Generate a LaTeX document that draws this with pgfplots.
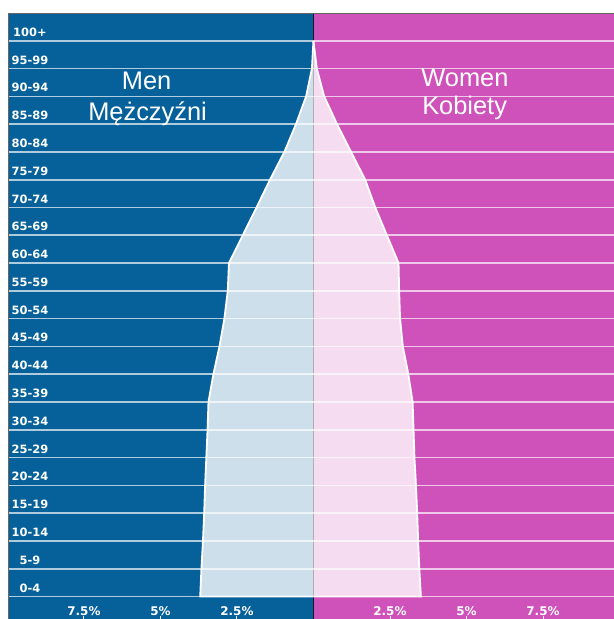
\documentclass[border=0pt]{standalone}
\usepackage{fontspec}
\setmainfont{Liberation Sans}
\newfontfamily\dvs{DejaVu Sans}
\usepackage{pgfplots}
\pgfplotsset{compat=1.18}
\definecolor{menbg}{RGB}{6,97,155}
\definecolor{wombg}{RGB}{206,82,186}
\begin{document}
\begin{tikzpicture}
\begin{axis}[
  scale only axis, width=606bp, height=606bp,
  xmin=-9.98, xmax=9.82, ymin=-0.81, ymax=21,
  axis on top,
  axis line style={draw=none},
  xtick={-7.5,-5,-2.5,2.5,5,7.5},
  xticklabels={7.5\%,5\%,2.5\%,2.5\%,5\%,7.5\%},
  xtick pos=left, tick align=inside,
  major tick length=3bp,
  xtick style={white!85!gray, line width=0.9bp},
  xticklabel style={anchor=base, yshift=3.5bp, text=white, font=\dvs\bfseries\fontsize{12}{14}\selectfont},
  ytick={0.16,1.16,2.16,3.16,4.16,5.16,6.16,7.16,8.16,9.16,10.16,11.16,12.16,13.16,14.16,15.16,16.16,17.16,18.16,19.16,20.16},
  yticklabels={0-4,5-9,10-14,15-19,20-24,25-29,30-34,35-39,40-44,45-49,50-54,55-59,60-64,65-69,70-74,75-79,80-84,85-89,90-94,95-99,100+},
  ytick pos=left,
  ytick style={draw=none},
  yticklabel style={anchor=base, xshift=22bp, text=white, font=\dvs\bfseries\fontsize{11.5}{13}\selectfont},
]
% backgrounds
\fill[menbg] (axis cs:-9.98,-0.81) rectangle (axis cs:0,21);
\fill[wombg] (axis cs:0,-0.81) rectangle (axis cs:9.82,21);
\draw[black!90, line width=1.2bp] (axis cs:0,-0.81) -- (axis cs:0,21);
% men
\addplot[draw=none, fill=white, fill opacity=0.8] coordinates {
 (0,0) (-3.70,0) (-3.66,1) (-3.61,2) (-3.57,3) (-3.54,4) (-3.50,5) (-3.46,6) (-3.43,7)
 (-3.27,8) (-3.07,9) (-2.91,10) (-2.80,11) (-2.76,12) (-2.31,13) (-1.86,14) (-1.42,15)
 (-0.95,16) (-0.57,17) (-0.24,18) (-0.05,19) (0,20)};
% women
\addplot[draw=none, fill=white, fill opacity=0.8] coordinates {
 (0,0) (3.51,0) (3.46,1) (3.42,2) (3.39,3) (3.35,4) (3.30,5) (3.27,6) (3.24,7)
 (3.10,8) (2.92,9) (2.83,10) (2.80,11) (2.78,12) (2.40,13) (2.02,14) (1.69,15)
 (1.23,16) (0.77,17) (0.35,18) (0.11,19) (0,20)};
% outlines
\addplot[white, line width=1.8bp] coordinates {
 (0,0) (-3.70,0) (-3.66,1) (-3.61,2) (-3.57,3) (-3.54,4) (-3.50,5) (-3.46,6) (-3.43,7)
 (-3.27,8) (-3.07,9) (-2.91,10) (-2.80,11) (-2.76,12) (-2.31,13) (-1.86,14) (-1.42,15)
 (-0.95,16) (-0.57,17) (-0.24,18) (-0.05,19) (0,20)};
\addplot[white, line width=1.8bp] coordinates {
 (0,0) (3.51,0) (3.46,1) (3.42,2) (3.39,3) (3.35,4) (3.30,5) (3.27,6) (3.24,7)
 (3.10,8) (2.92,9) (2.83,10) (2.80,11) (2.78,12) (2.40,13) (2.02,14) (1.69,15)
 (1.23,16) (0.77,17) (0.35,18) (0.11,19) (0,20)};
% horizontal row lines
\pgfplotsinvokeforeach{0,...,20}{
  \draw[white, opacity=0.68, line width=1.7bp] (axis cs:-9.98,#1) -- (axis cs:9.82,#1);
}
% borders
\draw[black!60, line width=0.8bp] (axis cs:-9.98,-0.81) -- (axis cs:-9.98,21) -- (axis cs:9.82,21);
% titles
\node[white, anchor=base, font=\fontsize{25.5}{30}\selectfont] at (axis cs:-5.45,18.24) {Men};
\node[white, anchor=base, font=\fontsize{25.5}{30}\selectfont] at (axis cs:-5.42,17.14) {Mężczyźni};
\node[white, anchor=base, font=\fontsize{25.5}{30}\selectfont] at (axis cs:4.95,18.34) {Women};
\node[white, anchor=base, font=\fontsize{25.5}{30}\selectfont] at (axis cs:4.94,17.34) {Kobiety};
\end{axis}
\pgfresetboundingbox
\path[use as bounding box] (current axis.south west) ++(-8bp,0) rectangle ++(614bp,619bp);
\end{tikzpicture}
\end{document}
